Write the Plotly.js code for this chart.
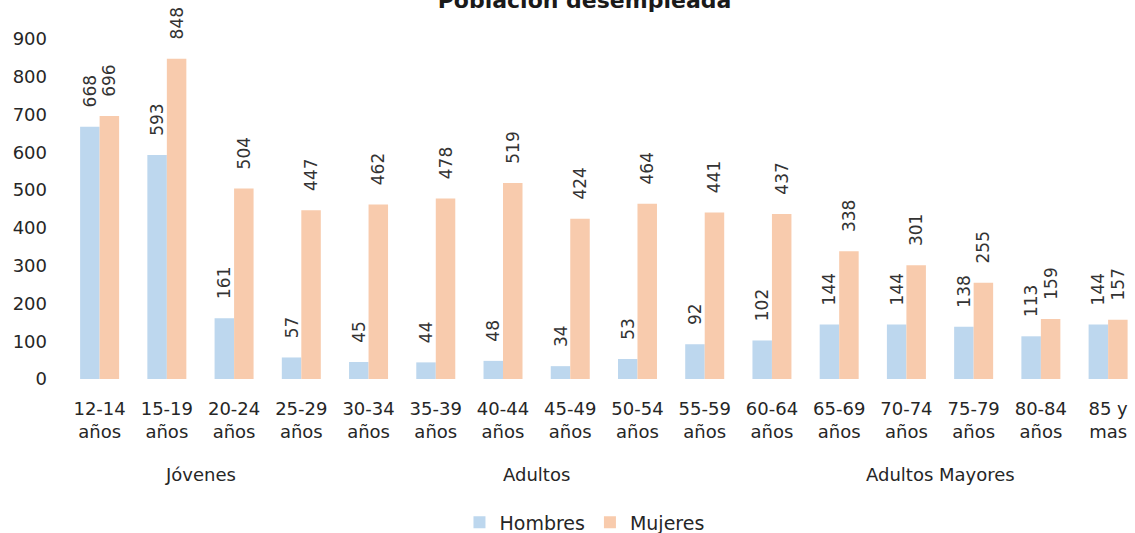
<!DOCTYPE html>
<html>
<head>
<meta charset="utf-8">
<script src="https://cdn.plot.ly/plotly-3.0.1.min.js"></script>
<style>body{margin:0;background:#fff}#chart{width:1135px;height:533px}</style>
</head>
<body>
<div id="chart"></div>
<script>
const categories = ["12-14<br>años","15-19<br>años","20-24<br>años","25-29<br>años","30-34<br>años","35-39<br>años","40-44<br>años","45-49<br>años","50-54<br>años","55-59<br>años","60-64<br>años","65-69<br>años","70-74<br>años","75-79<br>años","80-84<br>años","85 y<br>mas"];
const hombres = [668,593,161,57,45,44,48,34,53,92,102,144,144,138,113,144];
const mujeres = [696,848,504,447,462,478,519,424,464,441,437,338,301,255,159,157];
const groups = [
  {label:"Jóvenes", from:0, to:3},
  {label:"Adultos", from:4, to:9},
  {label:"Adultos Mayores", from:10, to:15}
];
const yTicks = [0,100,200,300,400,500,600,700,800,900];

const FONT = "'DejaVu Sans', sans-serif";
const idx = categories.map((_, i) => i);

const mk = (name, vals, color) => ({
  type:'bar', name:name, x:idx, y:vals,
  marker:{color:color},
  text: vals.map(v => '\u00a0\u00a0\u00a0' + v),
  textposition:'outside', textangle:-90, constraintext:'none',
  textfont:{family:FONT, size:17, color:'#333'},
  cliponaxis:false, hoverinfo:'none'
});

const data = [mk('Hombres', hombres, '#BDD7EE'), mk('Mujeres', mujeres, '#F8CBAD')];

const annotations = groups.map(g => ({
  text:g.label, x:(g.from+g.to)/2, xref:'x', y:0, yref:'paper',
  yshift:-95, showarrow:false, yanchor:'middle',
  font:{family:FONT, size:18, color:'#262626'}
}));

const layout = {
  width:1135, height:533,
  margin:{l:66, r:0, t:39, b:154, autoexpand:false},
  paper_bgcolor:'#fff', plot_bgcolor:'#fff',
  title:{text:'<b>Población desempleada</b>', x:0.515, xanchor:'center', y:0.985, yref:'container', yanchor:'bottom',
    font:{family:FONT, size:22, color:'#1a1a1a'}},
  barmode:'group', bargap:0.42, bargroupgap:0,
  xaxis:{tickmode:'array', tickvals:idx, ticktext:categories, range:[-0.5,15.4],
    showgrid:false, zeroline:false, showline:false, ticks:'', ticklabelstandoff:17,
    tickfont:{family:FONT, size:18, color:'#262626'}, fixedrange:true, automargin:false},
  yaxis:{range:[0,900], tickmode:'array', tickvals:yTicks, showgrid:false, zeroline:false,
    showline:false, ticks:'', ticklabelstandoff:18, tickfont:{family:FONT, size:18, color:'#262626'}, fixedrange:true, automargin:false},
  showlegend:true,
  legend:{orientation:'h', x:0.485, xanchor:'center', yref:'container', y:0.02, yanchor:'middle',
    font:{family:FONT, size:19, color:'#262626'}, itemwidth:30},
  annotations:annotations
};

Plotly.newPlot('chart', data, layout, {displayModeBar:false, staticPlot:true});
</script>
</body>
</html>
